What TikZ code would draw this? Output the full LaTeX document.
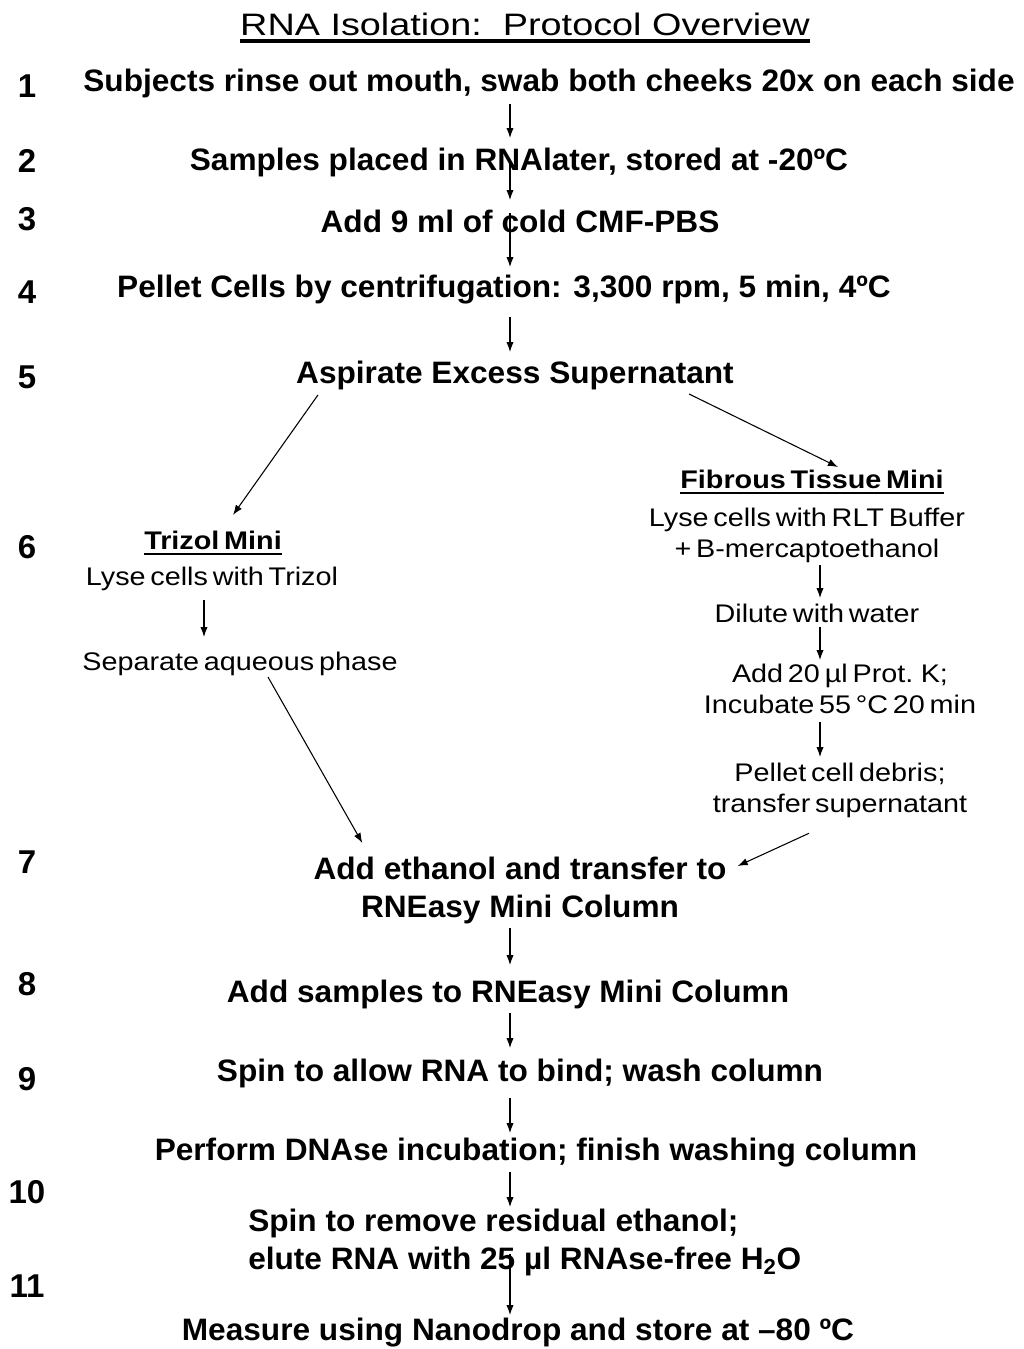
\documentclass[tikz,border=0pt]{standalone}
\usepackage{fontspec}
\setmainfont{Liberation Sans}
\newfontfamily\stagefont{Liberation Sans}[FakeStretch=1.02]
\newfontfamily\titlefont{Liberation Sans}[FakeStretch=1.22]
\newfontfamily\branchfont{Liberation Sans}[FakeStretch=1.13,WordSpace=0.6]
\usetikzlibrary{arrows.meta,calc}
\tikzset{
    title/.style = {inner sep=0pt, anchor=base,
                    font=\titlefont\fontsize{23.25}{28}\selectfont},
    num/.style   = {inner sep=0pt, anchor=base,
                    font=\bfseries\fontsize{24.75}{30}\selectfont},
    stage/.style = {inner sep=0pt, anchor=base,
                    font=\stagefont\bfseries\fontsize{23.25}{28}\selectfont},
    hdr/.style   = {inner sep=0pt, anchor=base,
                    font=\branchfont\bfseries\fontsize{19.1}{23.25}\selectfont},
    note/.style  = {inner sep=0pt, anchor=base,
                    font=\branchfont\fontsize{19.1}{23.25}\selectfont},
    arr/.style   = {-{Latex[length=7.5pt,width=5.5pt]}, line width=0.8pt},
    uline/.style = {line width=1.5pt},
}
\begin{document}
\begin{tikzpicture}[x=0.75pt,y=-0.75pt]
    \useasboundingbox (0,0) rectangle (1024,1349);

    % Title, underlined
    \node[title] (ttl) at (525,35) {RNA Isolation:\ \ Protocol Overview};
    \draw[uline,line width=2.6pt] ([yshift=-4.5pt]ttl.base west) -- ([yshift=-4.5pt]ttl.base east);

    % Step numbers down the left margin
    \foreach \n/\y in {1/97,2/172,3/230,4/303,5/388,6/558,7/873,8/995,9/1090,10/1203,11/1297} {
        \node[num] (n\n) at (27,\y) {\n};
    }

    % Main column
    \node[stage] (s1) at (549,91) {Subjects rinse out mouth, swab both cheeks 20x on each side};
    \node[stage] (s2) at (519,170) {Samples placed in RNAlater, stored at -20ºC};
    \node[stage] (s3) at (520,232) {Add 9 ml of cold CMF-PBS};
    \node[stage] (s4) at (504,297) {Pellet Cells by centrifugation: 3,300 rpm, 5 min, 4ºC};
    \node[stage] (s5) at (515,383) {Aspirate Excess Supernatant};
    \node[stage,anchor=north,align=center] (s7) at (520,857) {Add ethanol and transfer to\\RNEasy Mini Column};
    \node[stage] (s8) at (508,1002) {Add samples to RNEasy Mini Column};
    \node[stage] (s9) at (520,1081) {Spin to allow RNA to bind; wash column};
    \node[stage] (s10) at (536,1160) {Perform DNAse incubation; finish washing column};
    \node[stage,anchor=north west,align=left] (s11) at (248,1209) {Spin to remove residual ethanol;\\elute RNA with 25 µl RNAse-free H\textsubscript{2}O};
    \node[stage] (s12) at (518,1340) {Measure using Nanodrop and store at –80 ºC};

    % Trizol branch
    \node[hdr] (tz) at (213,549) {Trizol Mini};
    \draw[uline] ([yshift=-3.5pt]tz.base west) -- ([yshift=-3.5pt]tz.base east);
    \node[note] (tz1) at (212,585) {Lyse cells with Trizol};
    \node[note] (tz2) at (240,670) {Separate aqueous phase};

    % Fibrous tissue branch
    \node[hdr] (ft) at (812,488) {Fibrous Tissue Mini};
    \draw[uline] ([yshift=-3.5pt]ft.base west) -- ([yshift=-3.5pt]ft.base east);
    \node[note,anchor=north,align=center] (ft1) at (807,508) {Lyse cells with RLT Buffer\\+ B-mercaptoethanol};
    \node[note] (ft2) at (817,622) {Dilute with water};
    \node[note,anchor=north,align=center] (ft3) at (840,664) {Add 20 µl Prot. K;\\Incubate 55 °C 20 min};
    \node[note,anchor=north,align=center] (ft4) at (840,763) {Pellet cell debris;\\transfer supernatant};

    % Arrow columns
    \coordinate (ax) at (510,0);
    \coordinate (bx) at (204,0);
    \coordinate (cx) at (820,0);

    % Main chain
    \draw[arr] ($(s1.base -| ax)+(0,13)$) -- ($(s2.base -| ax)+(0,-32)$);
    \draw[arr] ($(s2.base -| ax)+(0,-7)$) -- ($(s3.base -| ax)+(0,-32)$);
    \draw[arr] ($(s3.base -| ax)+(0,-19)$) -- ($(s4.base -| ax)+(0,-30)$);
    \draw[arr] ($(s4.base -| ax)+(0,20)$) -- ($(s5.base -| ax)+(0,-31)$);
    \draw[arr] ($(s7.south -| ax)+(0,4)$) -- ($(s8.base -| ax)+(0,-37)$);
    \draw[arr] ($(s8.base -| ax)+(0,11)$) -- ($(s9.base -| ax)+(0,-33)$);
    \draw[arr] ($(s9.base -| ax)+(0,17)$) -- ($(s10.base -| ax)+(0,-27)$);
    \draw[arr] ($(s10.base -| ax)+(0,12)$) -- ($(s11.north -| ax)+(0,-2)$);
    \draw[arr] ($(s11.south -| ax)+(0,-22)$) -- ($(s12.base -| ax)+(0,-25)$);

    % Split and merge
    \draw[arr] ($(s5.base west)+(22,12)$) -- ($(tz.base)+(20,-34)$);
    \draw[arr] ($(s5.base east)+(-45,11)$) -- ($(ft.base)+(26,-21)$);
    \draw[arr] ($(tz2.base)+(28,7)$) -- ($(s7.north west)+(49,-14)$);
    \draw[arr] ($(ft4.south)+(-31,15)$) -- ($(s7.north east)+(11,9)$);

    % Inside the branches
    \draw[arr] ($(tz1.base -| bx)+(0,15)$) -- ($(tz2.base -| bx)+(0,-33)$);
    \draw[arr] ($(ft1.south -| cx)+(0,2)$) -- ($(ft2.base -| cx)+(0,-24)$);
    \draw[arr] ($(ft2.base -| cx)+(0,5)$) -- ($(ft3.north -| cx)+(0,-4)$);
    \draw[arr] ($(ft3.south -| cx)+(0,8)$) -- ($(ft4.north -| cx)+(0,-6)$);
\end{tikzpicture}
\end{document}
